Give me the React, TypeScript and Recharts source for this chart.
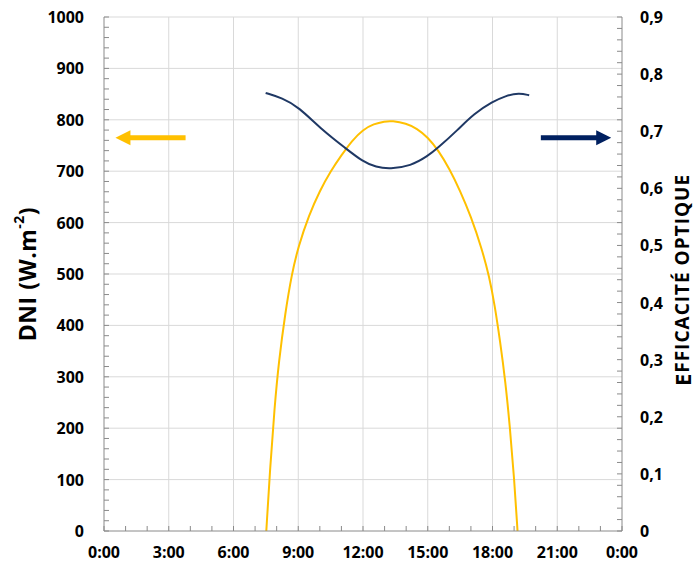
import React from 'react';
import { ComposedChart, Line, XAxis, YAxis, ReferenceLine } from 'recharts';

// ---------- data ----------
const dniHours = [7.52, 7.7, 7.9, 8.1, 8.4, 8.7, 9.0, 9.5, 10.0, 10.5, 11.0, 11.5, 12.0, 12.5, 13.0, 13.35, 14.0, 14.5, 15.0, 15.5, 16.0, 16.5, 17.0, 17.5, 17.85, 18.1, 18.35, 18.6, 18.8, 19.0, 19.16];
const dniValues = [0, 125, 240, 330, 425, 500, 553, 615, 662, 700, 731, 760, 781, 792, 797, 798, 793, 783, 766, 740, 705, 662, 612, 550, 495, 440, 370, 290, 205, 105, 0];

const effHours = [7.49, 8.26, 9.0, 10.11, 11.2, 12.0, 12.6, 13.25, 14.21, 15.0, 15.45, 16.38, 17.15, 18.0, 18.6, 19.23, 19.7];
const effValues = [0.767, 0.758, 0.743, 0.702, 0.67, 0.6465, 0.637, 0.634, 0.639, 0.6565, 0.67, 0.702, 0.731, 0.7516, 0.762, 0.767, 0.763];

const xMajorTicks = [0, 3, 6, 9, 12, 15, 18, 21, 24];
const xTickLabels = ['0:00', '3:00', '6:00', '9:00', '12:00', '15:00', '18:00', '21:00', '0:00'];
const leftMajorTicks = [0, 100, 200, 300, 400, 500, 600, 700, 800, 900, 1000];
const rightTickLabels = ['0', '0,1', '0,2', '0,3', '0,4', '0,5', '0,6', '0,7', '0,8', '0,9'];

const xMinorTicks = Array.from({ length: 25 }, (_, i) => i);
const leftMinorTicks = Array.from({ length: 51 }, (_, i) => i * 20);
const rightMinorTicks = Array.from({ length: 46 }, (_, i) => (i * 2) / 100);

// arrows (data coordinates)
const dniArrow = [{ x: 3.78, y: 765 }, { x: 0.53, y: 765 }];
const effArrow = [{ x: 20.24, y: 765 }, { x: 23.5, y: 765 }];

const dniData = dniHours.map((h, i) => ({ h, v: dniValues[i] }));
const effData = effHours.map((h, i) => ({ h, v: effValues[i] }));

// ---------- style ----------
const FONT = '"Open Sans", sans-serif';
const AXIS = '#8a8a8a';
const GRID = '#d9d9d9';
const YELLOW = '#FFC000';
const NAVY_LINE = '#1F3864';
const NAVY_ARROW = '#002060';
const TICK_LEN = 5;
const L_GAP = 20;
const R_GAP = 18;
const B_GAP = 21;
const TICK_FS = 16;

const LeftTick = (p: any) => {
  const v = p.payload.value;
  const ax = p.x + L_GAP;
  const major = v % 100 === 0;
  return (
    <g>
      <line x1={ax} x2={ax + TICK_LEN} y1={p.y} y2={p.y} stroke={AXIS} strokeWidth={1} />
      {major && (
        <text x={p.x} y={p.y} textAnchor="end" dominantBaseline="central" fontFamily={FONT} fontWeight={700} fontSize={TICK_FS} fill="#000">
          {v}
        </text>
      )}
    </g>
  );
};

const RightTick = (p: any) => {
  const v = p.payload.value;
  const ax = p.x - R_GAP;
  const k = Math.round(v * 100);
  const major = k % 10 === 0;
  return (
    <g>
      <line x1={ax} x2={ax - TICK_LEN} y1={p.y} y2={p.y} stroke={AXIS} strokeWidth={1} />
      {major && (
        <text x={p.x} y={p.y} textAnchor="start" dominantBaseline="central" fontFamily={FONT} fontWeight={700} fontSize={TICK_FS} fill="#000">
          {rightTickLabels[k / 10]}
        </text>
      )}
    </g>
  );
};

const BottomTick = (p: any) => {
  const v = p.payload.value;
  const ay = p.y - B_GAP;
  const idx = xMajorTicks.indexOf(v);
  return (
    <g>
      <line x1={p.x} x2={p.x} y1={ay} y2={ay - TICK_LEN} stroke={AXIS} strokeWidth={1} />
      {idx >= 0 && (
        <text x={p.x} y={p.y} textAnchor="middle" dominantBaseline="central" fontFamily={FONT} fontWeight={700} fontSize={TICK_FS} fill="#000">
          {xTickLabels[idx]}
        </text>
      )}
    </g>
  );
};

const arrowShape = (color: string) => (p: any) => {
  const { x1, y1, x2, y2 } = p;
  const dir = x2 > x1 ? 1 : -1;
  const head = 15;
  const hh = 7.5;
  const sh = 2.5;
  const bx = x2 - dir * head;
  const d = `M${x1},${y1 - sh} L${bx},${y1 - sh} L${bx},${y1 - hh} L${x2},${y2} L${bx},${y1 + hh} L${bx},${y1 + sh} L${x1},${y1 + sh} Z`;
  return <path d={d} fill={color} stroke="none" />;
};

const LeftTitle = (props: any) => {
  const vb = props.viewBox || { x: 24, y: 17, width: 80, height: 514 };
  const cx = vb.x + 3;
  const cy = vb.y + vb.height / 2;
  return (
    <text transform={`translate(${cx},${cy}) rotate(-90)`} textAnchor="middle" dominantBaseline="central" fontFamily={FONT} fontWeight={700} fontSize={23} letterSpacing={0.5} fill="#000">
      DNI (W.m<tspan fontSize={14} dy={-9}>-2</tspan><tspan dy={9}>)</tspan>
    </text>
  );
};

const RightTitle = (props: any) => {
  const vb = props.viewBox || { x: 622, y: 17, width: 60, height: 514 };
  const cx = vb.x + 60;
  const cy = vb.y + vb.height / 2 + 6;
  return (
    <text transform={`translate(${cx},${cy}) rotate(-90)`} textAnchor="middle" dominantBaseline="central" fontFamily={FONT} fontWeight={700} letterSpacing={1} fill="#000">
      <tspan fontSize={22}>E</tspan>
      <tspan fontSize={19}>FFICACITÉ OPTIQUE</tspan>
    </text>
  );
};

export default function App() {
  return (
    <div style={{ position: 'absolute', left: 0, top: 0, width: 699, height: 567, background: '#fff' }}>
      <ComposedChart width={699} height={567} margin={{ top: 17, right: 17, bottom: 6, left: 24 }}>
        <XAxis
          xAxisId="x"
          dataKey="h"
          type="number"
          domain={[0, 24]}
          ticks={xMinorTicks}
          interval={0}
          allowDataOverflow
          height={30}
          tickSize={0}
          tickMargin={B_GAP}
          tick={BottomTick}
          tickLine={false}
          axisLine={{ stroke: AXIS, strokeWidth: 1 }}
        />
        <YAxis
          yAxisId="left"
          orientation="left"
          type="number"
          domain={[0, 1000]}
          ticks={leftMinorTicks}
          interval={0}
          allowDataOverflow
          width={80}
          tickSize={0}
          tickMargin={L_GAP}
          tick={LeftTick}
          tickLine={false}
          axisLine={{ stroke: AXIS, strokeWidth: 1 }}
          label={{ content: LeftTitle }}
        />
        <YAxis
          yAxisId="right"
          orientation="right"
          type="number"
          domain={[0, 0.9]}
          ticks={rightMinorTicks}
          interval={0}
          allowDataOverflow
          width={60}
          tickSize={0}
          tickMargin={R_GAP}
          tick={RightTick}
          tickLine={false}
          axisLine={{ stroke: AXIS, strokeWidth: 1 }}
          label={{ content: RightTitle }}
        />
        {leftMajorTicks.slice(1).map((v) => (
          <ReferenceLine key={'gy' + v} xAxisId="x" yAxisId="left" y={v} stroke={GRID} strokeWidth={1} />
        ))}
        {xMajorTicks.slice(1, -1).map((v) => (
          <ReferenceLine key={'gx' + v} xAxisId="x" yAxisId="left" x={v} stroke={GRID} strokeWidth={1} />
        ))}
        <ReferenceLine xAxisId="x" yAxisId="left" segment={dniArrow} shape={arrowShape(YELLOW)} />
        <ReferenceLine xAxisId="x" yAxisId="left" segment={effArrow} shape={arrowShape(NAVY_ARROW)} />
        <Line
          xAxisId="x"
          yAxisId="left"
          data={dniData}
          dataKey="v"
          type="basis"
          stroke={YELLOW}
          strokeWidth={2}
          dot={false}
          activeDot={false}
          isAnimationActive={false}
        />
        <Line
          xAxisId="x"
          yAxisId="right"
          data={effData}
          dataKey="v"
          type="basis"
          stroke={NAVY_LINE}
          strokeWidth={2}
          dot={false}
          activeDot={false}
          isAnimationActive={false}
        />
      </ComposedChart>
    </div>
  );
}
